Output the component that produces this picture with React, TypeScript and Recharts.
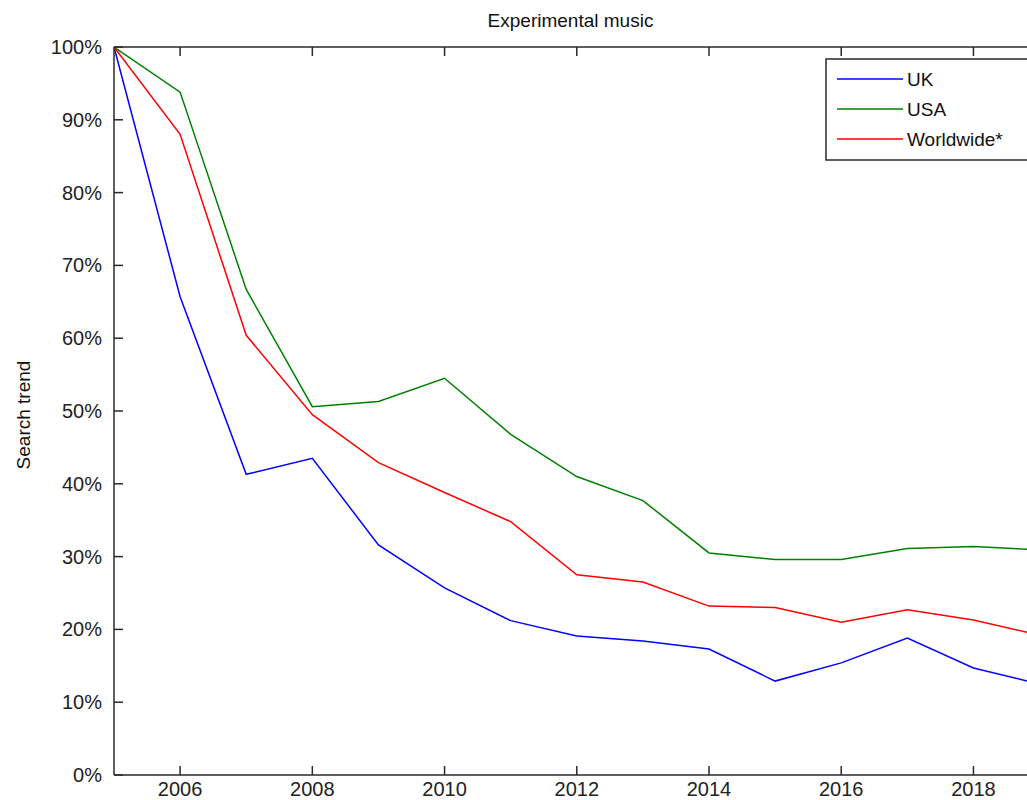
import React from 'react';
import { LineChart, Line, XAxis, YAxis, Legend } from 'recharts';

const years = [2005, 2006, 2007, 2008, 2009, 2010, 2011, 2012, 2013, 2014, 2015, 2016, 2017, 2018, 2019];
const uk = [100, 65.7, 41.3, 43.5, 31.6, 25.7, 21.2, 19.1, 18.4, 17.3, 12.9, 15.4, 18.8, 14.7, 12.5];
const usa = [100, 93.8, 66.7, 50.6, 51.3, 54.5, 46.8, 41.0, 37.7, 30.5, 29.6, 29.6, 31.1, 31.4, 30.9];
const worldwide = [100, 88.0, 60.4, 49.5, 42.9, 38.8, 34.8, 27.5, 26.5, 23.2, 23.0, 21.0, 22.7, 21.3, 19.2];

const xTicks = [2006, 2008, 2010, 2012, 2014, 2016, 2018];
const yTicks = [0, 10, 20, 30, 40, 50, 60, 70, 80, 90, 100];

const seriesNames = ['UK', 'USA', 'Worldwide*'];
const seriesKeys = ['uk', 'usa', 'worldwide'];
const seriesColors = ['#0000ff', '#008000', '#ff0000'];

const data = years.map((year, i) => ({
  year,
  uk: uk[i],
  usa: usa[i],
  worldwide: worldwide[i],
}));

const FONT = '"Liberation Sans", Arial, sans-serif';
const AXIS = '#2a2a2a';
const TICK_LEN = 9;

const BottomTick = (props: any) => {
  const { x, y, payload } = props;
  return (
    <g>
      <line x1={x} y1={y} x2={x} y2={y - TICK_LEN} stroke={AXIS} strokeWidth={1.5} />
      <text x={x} y={y + 21} textAnchor="middle" fontFamily={FONT} fontSize={20} fill="#222">
        {payload.value}
      </text>
    </g>
  );
};

const TopTick = (props: any) => {
  const { x, y } = props;
  return <line x1={x} y1={y} x2={x} y2={y + TICK_LEN} stroke={AXIS} strokeWidth={1.5} />;
};

const LeftTick = (props: any) => {
  const { x, y, payload } = props;
  return (
    <g>
      <line x1={x} y1={y} x2={x + TICK_LEN} y2={y} stroke={AXIS} strokeWidth={1.5} />
      <text x={x - 12} y={y + 7} textAnchor="end" fontFamily={FONT} fontSize={20} fill="#222">
        {payload.value + '%'}
      </text>
    </g>
  );
};

const TitleLabel = (props: any) => {
  const vb = props.viewBox || {};
  return (
    <text x={vb.x + vb.width / 2} y={27} textAnchor="middle" fontFamily={FONT} fontSize={19} fill="#111">
      Experimental music
    </text>
  );
};

const YLabel = (props: any) => {
  const vb = props.viewBox || {};
  const cy = vb.y + vb.height / 2 + 4;
  return (
    <text x={30} y={cy} transform={`rotate(-90 30 ${cy})`} textAnchor="middle" fontFamily={FONT} fontSize={19} fill="#111">
      Search trend
    </text>
  );
};

const renderLegend = () => (
  <svg width={202} height={104} style={{ display: 'block' }}>
    <rect x={0} y={0} width={202} height={104} fill="#fff" />
    <path d="M 202 1 L 1 1 L 1 102 L 202 102" fill="none" stroke={AXIS} strokeWidth={1.5} />
    {seriesNames.map((name, i) => (
      <g key={name}>
        <line x1={12} x2={78} y1={21 + i * 30} y2={21 + i * 30} stroke={seriesColors[i]} strokeWidth={1.5} />
        <text x={82} y={28 + i * 30} fontFamily={FONT} fontSize={19} fill="#111">
          {name}
        </text>
      </g>
    ))}
  </svg>
);

export default function App() {
  return (
    <div style={{ position: 'absolute', left: 0, top: 0, width: 1027, height: 800, overflow: 'hidden', background: '#fff' }}>
      <LineChart width={1027} height={800} data={data} margin={{ top: 0, right: 0, bottom: 0, left: 0 }}>
        <XAxis
          dataKey="year"
          type="number"
          domain={[2005, 2018.81]}
          allowDataOverflow
          ticks={xTicks}
          height={25}
          tickSize={0}
          tickMargin={0}
          tickLine={false}
          tick={<BottomTick />}
          axisLine={{ stroke: AXIS, strokeWidth: 1.5 }}
          interval={0}
        />
        <XAxis
          xAxisId="top"
          orientation="top"
          dataKey="year"
          type="number"
          domain={[2005, 2018.81]}
          allowDataOverflow
          ticks={xTicks}
          height={47}
          tickSize={0}
          tickMargin={0}
          tickLine={false}
          tick={<TopTick />}
          axisLine={{ stroke: AXIS, strokeWidth: 1.5 }}
          interval={0}
          label={<TitleLabel />}
        />
        <YAxis
          type="number"
          domain={[0, 100]}
          ticks={yTicks}
          width={114}
          tickSize={0}
          tickMargin={0}
          tickLine={false}
          tick={<LeftTick />}
          axisLine={{ stroke: AXIS, strokeWidth: 1.5 }}
          interval={0}
          label={<YLabel />}
        />
        <Legend
          layout="horizontal"
          verticalAlign="middle"
          align="center"
          content={renderLegend}
          wrapperStyle={{ position: 'absolute', left: 825, top: 58, width: 202, height: 104 }}
        />
        {seriesKeys.map((k, i) => (
          <Line
            key={k}
            dataKey={k}
            name={seriesNames[i]}
            stroke={seriesColors[i]}
            strokeWidth={1.5}
            dot={false}
            activeDot={false}
            type="linear"
            isAnimationActive={false}
          />
        ))}
      </LineChart>
    </div>
  );
}
